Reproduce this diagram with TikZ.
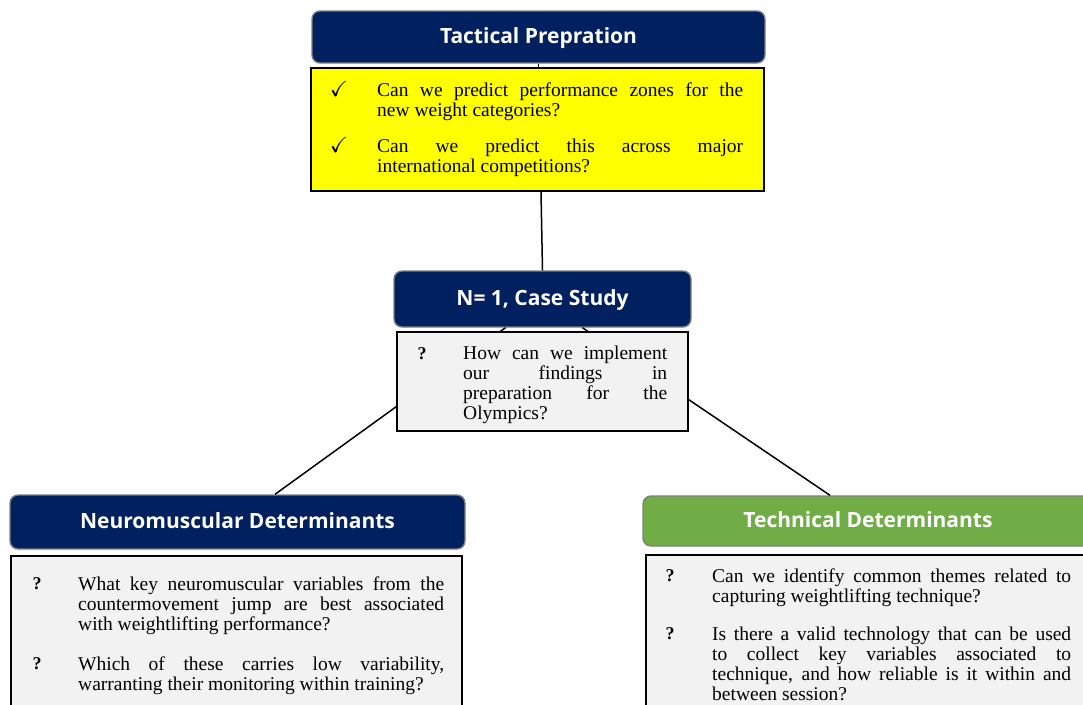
\documentclass[tikz,border=0pt]{standalone}
\usepackage{fontspec}
\usepackage{amssymb}
\setmainfont{Liberation Serif}
\newfontfamily\headfont{Open Sans}
\definecolor{navy}{HTML}{002060}
\definecolor{leaf}{HTML}{70AD47}
\definecolor{paper}{HTML}{F2F2F2}
\definecolor{rim}{HTML}{7F7F7F}
\definecolor{lemon}{HTML}{FFFF00}
\begin{document}
\begin{tikzpicture}[x=1pt,y=-1pt,
  hdr/.style={draw=rim, line width=1.4pt, rounded corners=8pt, text=white,
    font=\headfont\bfseries\fontsize{21}{24}\selectfont, inner sep=0pt,
    text depth=2.5pt},
  panel/.style={draw=black, line width=1.8pt, inner sep=0pt},
  item/.style={anchor=north west, inner sep=0pt, align=justify,
    font=\fontsize{19.5}{20}\selectfont},
  sym/.style={inner sep=0pt, font=\fontsize{18}{19}\selectfont\bfseries},
  tick/.style={inner sep=0pt, font=\fontsize{22}{24}\selectfont},
  link/.style={draw=black, line width=1.5pt}]
\useasboundingbox (0,0) rectangle (1083,704);
\clip (0,0) rectangle (1083,704);

% headers
\node[hdr, fill=navy, minimum width=453pt, minimum height=52pt] (tac) at (538.5,37) {Tactical Prepration};
\node[hdr, fill=navy, minimum width=297pt, minimum height=56pt] (n1) at (542.5,299) {N= 1, Case Study};
\node[hdr, fill=navy, minimum width=455pt, minimum height=54pt] (neu) at (237.5,522) {Neuromuscular Determinants};
\node[hdr, fill=leaf, minimum width=450pt, minimum height=50pt] (tec) at (868,521) {Technical Determinants};

% connectors from the case study down to the two branches
\draw[link] ([xshift=-37pt]n1.south) -- ([xshift=37.5pt]neu.north);
\draw[link] ([xshift=40pt]n1.south) -- ([xshift=-38pt]tec.north);

% question panels
\node[panel, fill=lemon, minimum width=453pt, minimum height=123pt] (yel) at (537.5,129.5) {};
\node[panel, fill=paper, minimum width=291pt, minimum height=99pt] (n1q) at (542.5,381.5) {};
\node[panel, fill=paper, minimum width=451pt, minimum height=168pt] (neuq) at (236.5,640) {};
\node[panel, fill=paper, minimum width=449pt, minimum height=165pt] (tecq) at (870.5,637.5) {};

\draw[link] (tac.south) -- (tac.south |- yel.north);
\draw[link] ([xshift=3.5pt]yel.south) -- (n1.north);

% yellow panel
\node[tick] (y1s) at (339,89) {$\checkmark$};
\node[item, text width=366pt] (y1) at (377,82.5) {Can we predict performance zones for the\linebreak new weight categories?};
\node[tick] (y2s) at (339,145) {$\checkmark$};
\node[item, text width=366pt] (y2) at (377,138.5) {Can we predict this across major\linebreak international competitions?};

% case study panel
\node[sym] (n1s) at (422,354) {?};
\node[item, text width=204pt] (n1t) at (463,346) {How can we implement\linebreak our findings in\linebreak preparation for the\linebreak Olympics?};

% neuromuscular panel
\node[sym] (m1s) at (37,584) {?};
\node[item, text width=366pt] (m1) at (78,576.5) {What key neuromuscular variables from the\linebreak countermovement jump are best associated\linebreak with weightlifting performance?};
\node[sym] (m2s) at (37,664) {?};
\node[item, text width=366pt] (m2) at (78,656.5) {Which of these carries low variability,\linebreak warranting their monitoring within training?};

% technical panel
\node[sym] (t1s) at (670,576) {?};
\node[item, text width=359pt] (t1) at (712,568.5) {Can we identify common themes related to\linebreak capturing weightlifting technique?};
\node[sym] (t2s) at (670,634) {?};
\node[item, text width=359pt] (t2) at (712,626.5) {Is there a valid technology that can be used\linebreak to collect key variables associated to\linebreak technique, and how reliable is it within and\linebreak between session?};
\end{tikzpicture}
\end{document}
